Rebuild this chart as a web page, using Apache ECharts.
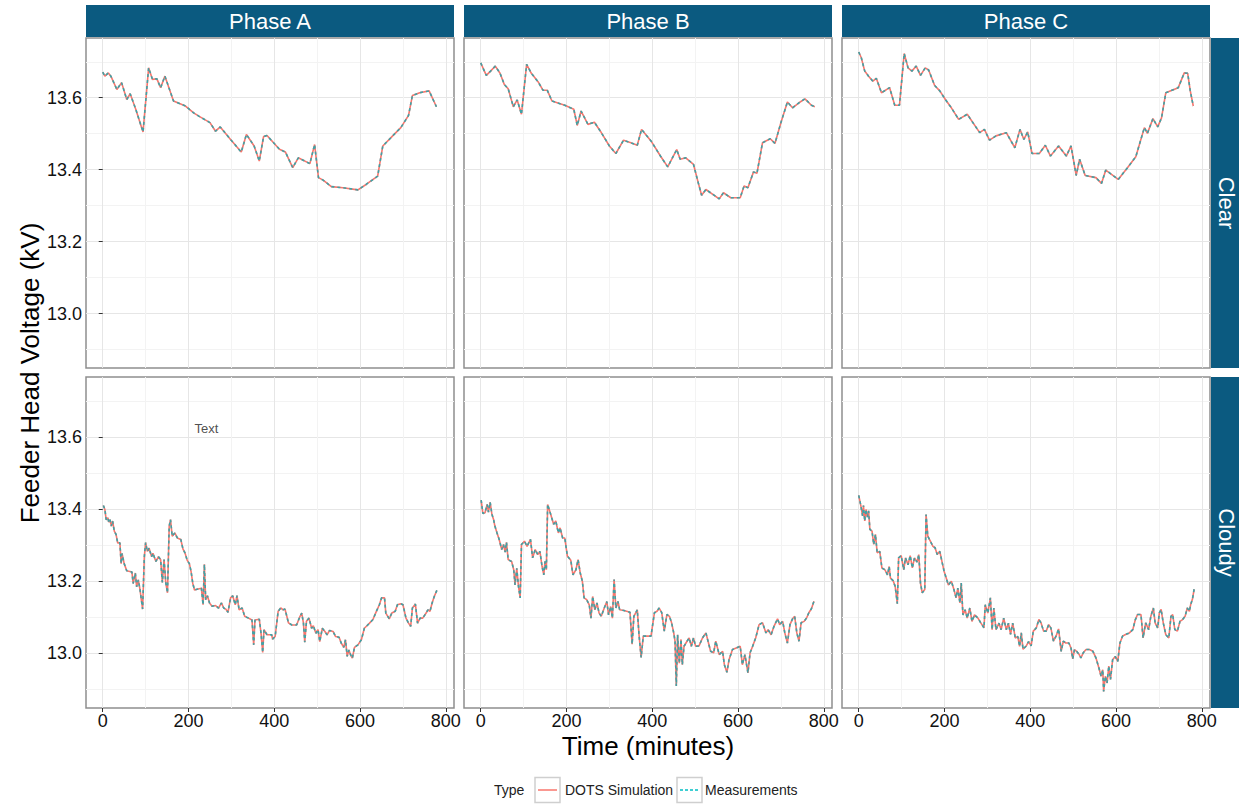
<!DOCTYPE html>
<html>
<head>
<meta charset="utf-8">
<script src="https://cdn.jsdelivr.net/npm/echarts@6/dist/echarts.min.js"></script>
<style>
html,body{margin:0;padding:0;background:#fff;}
#chart{width:1239px;height:805px;}
</style>
</head>
<body>
<div id="chart"></div>
<script>
// ---------------- DATA ----------------
const phases = ['Phase A', 'Phase B', 'Phase C'];
const conditions = ['Clear', 'Cloudy'];
const seriesNames = ['DOTS Simulation', 'Measurements'];
const legendTitle = 'Type';
const xTitle = 'Time (minutes)';
const yTitle = 'Feeder Head Voltage (kV)';
const xTicks = [0, 200, 400, 600, 800];
const yTicks = [13.0, 13.2, 13.4, 13.6];
const annotation = { x: 242, y: 13.624, label: 'Text' };

// [time (minutes), voltage (kV)]
const clearA = [[0,13.671],[5,13.660],[13,13.669],[19,13.660],[33,13.623],[44,13.642],[56,13.595],[64,13.611],[77,13.568],[94,13.505],[107,13.683],[116,13.651],[126,13.653],[135,13.628],[145,13.660],[165,13.591],[193,13.577],[212,13.558],[224,13.549],[250,13.531],[263,13.507],[274,13.519],[298,13.484],[323,13.449],[335,13.498],[353,13.466],[365,13.424],[375,13.492],[383,13.495],[412,13.457],[426,13.449],[443,13.406],[456,13.433],[483,13.417],[494,13.470],[503,13.378],[514,13.371],[533,13.353],[560,13.350],[595,13.344],[614,13.359],[641,13.382],[653,13.466],[676,13.494],[695,13.517],[713,13.551],[722,13.606],[739,13.614],[761,13.619],[778,13.575]];

const clearB = [[0,13.697],[13,13.662],[23,13.674],[34,13.688],[45,13.668],[55,13.637],[64,13.625],[76,13.575],[85,13.594],[95,13.554],[107,13.693],[118,13.668],[134,13.644],[145,13.621],[155,13.621],[166,13.591],[196,13.579],[217,13.568],[225,13.523],[234,13.563],[250,13.526],[265,13.532],[279,13.507],[300,13.466],[315,13.445],[333,13.482],[350,13.475],[365,13.468],[375,13.512],[397,13.480],[419,13.438],[436,13.408],[457,13.456],[465,13.429],[478,13.433],[496,13.415],[506,13.369],[515,13.329],[525,13.345],[556,13.319],[566,13.336],[583,13.322],[605,13.322],[614,13.355],[623,13.350],[636,13.394],[644,13.390],[657,13.475],[675,13.486],[686,13.473],[700,13.531],[715,13.588],[727,13.572],[742,13.586],[756,13.597],[771,13.579],[779,13.575]];

const clearC = [[0,13.727],[6,13.711],[14,13.674],[23,13.660],[33,13.646],[41,13.654],[53,13.614],[72,13.628],[84,13.579],[95,13.579],[106,13.723],[115,13.683],[124,13.674],[134,13.688],[144,13.662],[155,13.683],[163,13.677],[177,13.634],[189,13.619],[202,13.595],[216,13.572],[233,13.540],[253,13.554],[282,13.503],[293,13.512],[305,13.482],[320,13.494],[344,13.503],[364,13.461],[376,13.512],[385,13.484],[394,13.505],[404,13.445],[421,13.445],[435,13.468],[447,13.438],[466,13.466],[484,13.438],[495,13.466],[507,13.384],[515,13.429],[528,13.384],[553,13.378],[566,13.362],[576,13.399],[605,13.373],[627,13.406],[646,13.436],[666,13.517],[673,13.501],[686,13.542],[697,13.519],[706,13.544],[716,13.614],[745,13.628],[759,13.669],[767,13.668],[773,13.619],[780,13.577]];

const cloudyA = [[1.5,13.410],[5,13.399],[8,13.371],[12,13.376],[14,13.364],[17,13.371],[20,13.353],[23,13.367],[27,13.339],[31,13.330],[35,13.306],[40,13.307],[43,13.249],[45,13.277],[50,13.249],[56,13.229],[68,13.226],[71,13.194],[76,13.223],[79,13.185],[83,13.204],[87,13.176],[93,13.123],[97,13.268],[100,13.307],[104,13.283],[108,13.292],[114,13.268],[117,13.278],[124,13.255],[130,13.268],[135,13.260],[139,13.197],[143,13.260],[147,13.196],[151,13.168],[155,13.353],[158,13.371],[162,13.325],[168,13.334],[174,13.320],[182,13.316],[187,13.290],[192,13.278],[197,13.258],[202,13.249],[206,13.227],[210,13.194],[214,13.176],[220,13.178],[230,13.181],[234,13.135],[237,13.247],[240,13.149],[244,13.160],[249,13.140],[255,13.131],[263,13.133],[270,13.126],[277,13.140],[282,13.126],[287,13.123],[292,13.114],[298,13.154],[303,13.160],[309,13.135],[313,13.160],[318,13.121],[325,13.126],[331,13.103],[340,13.098],[348,13.093],[352,13.024],[355,13.093],[365,13.095],[369,13.057],[373,13.003],[376,13.066],[383,13.052],[394,13.052],[396,13.040],[402,13.047],[409,13.117],[415,13.126],[421,13.121],[425,13.123],[433,13.085],[441,13.079],[452,13.079],[460,13.103],[464,13.112],[468,13.084],[471,13.031],[475,13.089],[481,13.098],[487,13.070],[491,13.077],[497,13.056],[502,13.066],[506,13.033],[512,13.070],[518,13.061],[523,13.052],[529,13.064],[537,13.061],[543,13.047],[551,13.045],[556,13.029],[562,13.017],[566,13.038],[570,12.992],[574,13.010],[578,12.996],[582,12.987],[587,13.017],[595,13.024],[603,13.038],[610,13.070],[616,13.077],[622,13.084],[630,13.094],[637,13.114],[645,13.135],[650,13.154],[657,13.154],[660,13.112],[668,13.096],[674,13.112],[682,13.117],[687,13.135],[695,13.138],[700,13.135],[707,13.098],[713,13.084],[718,13.075],[722,13.126],[729,13.137],[734,13.084],[740,13.098],[746,13.098],[754,13.112],[758,13.121],[763,13.117],[768,13.140],[773,13.158],[779,13.175]];

const cloudyB = [[1,13.425],[5,13.388],[10,13.390],[15,13.413],[18,13.392],[22,13.419],[26,13.386],[30,13.371],[33,13.353],[38,13.334],[43,13.316],[49,13.288],[53,13.302],[57,13.281],[60,13.308],[64,13.260],[72,13.255],[77,13.232],[80,13.190],[84,13.236],[88,13.186],[92,13.154],[95,13.302],[102,13.311],[108,13.297],[116,13.316],[121,13.265],[127,13.288],[133,13.274],[138,13.283],[143,13.241],[147,13.218],[150,13.255],[153,13.232],[156,13.413],[162,13.390],[170,13.358],[175,13.367],[181,13.334],[185,13.348],[191,13.320],[196,13.320],[202,13.270],[210,13.258],[215,13.218],[222,13.232],[227,13.260],[232,13.223],[237,13.200],[241,13.154],[247,13.149],[253,13.135],[257,13.098],[261,13.158],[266,13.121],[271,13.140],[276,13.112],[281,13.103],[288,13.126],[294,13.144],[298,13.107],[303,13.130],[307,13.098],[311,13.205],[315,13.126],[320,13.144],[324,13.121],[334,13.119],[348,13.114],[353,13.026],[357,13.103],[365,13.121],[369,13.053],[374,12.989],[379,13.048],[388,13.048],[397,13.048],[405,13.113],[411,13.117],[416,13.126],[422,13.113],[428,13.062],[434,13.108],[440,13.103],[445,13.085],[450,13.057],[453,13.034],[456,12.910],[459,13.052],[463,12.973],[467,13.039],[470,12.969],[474,13.020],[481,13.034],[486,13.043],[491,13.020],[496,13.043],[501,13.020],[509,13.021],[517,13.043],[525,13.057],[530,13.034],[536,13.006],[543,13.002],[548,13.034],[556,12.997],[564,13.006],[568,12.969],[574,12.948],[579,12.983],[587,13.011],[597,13.016],[605,13.020],[610,12.969],[616,12.997],[623,12.946],[628,13.002],[634,13.020],[641,13.043],[649,13.080],[657,13.085],[665,13.057],[670,13.066],[677,13.052],[684,13.076],[692,13.096],[697,13.080],[704,13.089],[709,13.057],[715,13.029],[721,13.080],[727,13.096],[732,13.103],[737,13.057],[742,13.034],[747,13.085],[754,13.089],[760,13.099],[765,13.113],[771,13.124],[777,13.145]];

const cloudyC = [[0,13.438],[5,13.409],[9,13.381],[11,13.410],[14,13.367],[17,13.399],[20,13.378],[23,13.395],[26,13.344],[31,13.339],[35,13.302],[39,13.330],[43,13.279],[49,13.283],[54,13.237],[61,13.232],[67,13.218],[71,13.241],[74,13.209],[80,13.202],[85,13.186],[90,13.138],[93,13.265],[99,13.271],[105,13.232],[109,13.265],[115,13.246],[120,13.271],[125,13.237],[130,13.265],[136,13.253],[140,13.274],[144,13.195],[148,13.168],[154,13.177],[157,13.385],[161,13.325],[167,13.311],[173,13.297],[178,13.293],[183,13.274],[189,13.283],[194,13.255],[199,13.228],[204,13.209],[209,13.190],[216,13.200],[222,13.177],[227,13.154],[231,13.181],[236,13.140],[239,13.195],[243,13.107],[248,13.121],[253,13.098],[259,13.126],[264,13.089],[270,13.107],[278,13.098],[285,13.084],[292,13.071],[295,13.135],[301,13.112],[307,13.154],[311,13.066],[315,13.126],[320,13.066],[327,13.084],[332,13.066],[338,13.098],[344,13.066],[349,13.084],[354,13.053],[359,13.084],[365,13.043],[371,13.047],[375,13.020],[379,13.057],[383,13.012],[390,13.020],[396,13.033],[402,13.021],[407,13.062],[414,13.071],[420,13.094],[425,13.085],[431,13.062],[437,13.062],[443,13.080],[448,13.071],[454,13.034],[460,13.048],[466,13.068],[472,13.006],[477,13.034],[483,13.029],[490,13.029],[495,13.015],[499,12.985],[503,13.011],[508,13.006],[514,12.997],[518,12.988],[524,13.003],[530,13.011],[538,13.011],[546,13.006],[553,12.988],[560,12.960],[565,12.937],[569,12.955],[571,12.895],[575,12.937],[579,12.918],[583,12.965],[587,12.928],[592,12.983],[598,12.992],[604,12.978],[609,13.029],[615,13.048],[621,13.052],[631,13.057],[639,13.066],[645,13.094],[650,13.108],[658,13.108],[663,13.043],[669,13.085],[676,13.066],[681,13.103],[687,13.126],[691,13.085],[697,13.071],[701,13.113],[705,13.122],[710,13.085],[716,13.052],[723,13.043],[728,13.103],[732,13.108],[737,13.066],[743,13.062],[749,13.089],[755,13.094],[761,13.103],[766,13.126],[771,13.117],[774,13.136],[778,13.150],[782,13.178]];

// ---------------- LAYOUT ----------------
const panelData = [clearA, clearB, clearC, cloudyA, cloudyB, cloudyC];
const colLeft = [86, 464, 842];
const panelW = 368;
const rowTop = [38, 377];
const panelH = 331;
const X_MIN = -39, X_MAX = 819;
const Y_MIN = 12.849, Y_MAX = 13.766;
const FONT = 'Liberation Sans, Arial, sans-serif';
const stripColor = '#0b5a80';
const simColor = '#F8766D';
const measColor = '#3fa2a6';

const grids = [], xAxes = [], yAxes = [], series = [];
for (let r = 0; r < 2; r++) {
  for (let c = 0; c < 3; c++) {
    const i = r * 3 + c;
    grids.push({
      left: colLeft[c], top: rowTop[r], width: panelW, height: r === 0 ? 330 : panelH,
      show: true, borderColor: '#8e8e8e', borderWidth: 1.5, backgroundColor: '#fff', containLabel: false
    });
    const bottom = r === 1, left = c === 0;
    xAxes.push({
      type: 'value', gridIndex: i, min: X_MIN, max: X_MAX,
      axisLine: { show: false },
      axisTick: { show: bottom, length: 4, customValues: xTicks, lineStyle: { color: '#333', width: 1 } },
      axisLabel: { show: bottom, customValues: xTicks, fontSize: 18, fontFamily: FONT, color: '#111', margin: 4 },
      splitLine: { show: true, lineStyle: { color: '#e6e6e6', width: 1 } },
      minorTick: { show: false, splitNumber: 2 },
      minorSplitLine: { show: true, lineStyle: { color: '#f3f3f3', width: 1 } }
    });
    yAxes.push({
      type: 'value', gridIndex: i, min: Y_MIN, max: Y_MAX,
      axisLine: { show: false },
      axisTick: { show: left, length: 4, customValues: yTicks, lineStyle: { color: '#333', width: 1 } },
      axisLabel: { show: left, customValues: yTicks, fontSize: 18, fontFamily: FONT, color: '#111', margin: 4,
                   formatter: v => Number(v).toFixed(1) },
      splitLine: { show: true, lineStyle: { color: '#e6e6e6', width: 1 } },
      minorTick: { show: false, splitNumber: 2 },
      minorSplitLine: { show: true, lineStyle: { color: '#f3f3f3', width: 1 } }
    });
    const d = panelData[i];
    series.push({
      type: 'line', name: seriesNames[0], xAxisIndex: i, yAxisIndex: i, data: d,
      showSymbol: false, symbol: 'none', z: 2, emphasis: { disabled: true },
      lineStyle: { color: simColor, width: 1.6 }, itemStyle: { color: simColor }
    });
    series.push({
      type: 'line', name: seriesNames[1], xAxisIndex: i, yAxisIndex: i, data: d,
      showSymbol: false, symbol: 'none', z: 3, emphasis: { disabled: true },
      lineStyle: { color: measColor, width: 1.6, type: [3, 3] }, itemStyle: { color: measColor }
    });
  }
}
// text annotation in the Cloudy / Phase A panel
series.push({
  type: 'scatter', xAxisIndex: 3, yAxisIndex: 3, symbolSize: 0, silent: true,
  data: [[annotation.x, annotation.y]],
  label: { show: true, position: 'inside', formatter: annotation.label, fontSize: 13, fontFamily: FONT, color: '#222' }
});

// ---------------- GRAPHIC (strips, titles, legend) ----------------
const graphic = [];
const txt = (x, y, text, size, fill, extra) => Object.assign({
  type: 'text', x: x, y: y,
  style: { text: text, fill: fill, fontSize: size, fontFamily: FONT,
           align: 'center', verticalAlign: 'middle', textAlign: 'center', textVerticalAlign: 'middle' }
}, extra || {});

phases.forEach((p, c) => {
  graphic.push({ type: 'rect', shape: { x: colLeft[c], y: 5, width: panelW, height: 32 }, style: { fill: stripColor } });
  graphic.push(txt(colLeft[c] + panelW / 2, 21, p, 22, '#fff'));
});
conditions.forEach((cond, r) => {
  const h = r === 0 ? 330 : panelH;
  graphic.push({ type: 'rect', shape: { x: 1211, y: rowTop[r], width: 30, height: h }, style: { fill: stripColor } });
  graphic.push(txt(1226, rowTop[r] + h / 2, cond, 22, '#fff', { rotation: -Math.PI / 2 }));
});
graphic.push(txt(30, 373, yTitle, 26, '#000', { rotation: Math.PI / 2 }));
graphic.push(txt(648, 746, xTitle, 26, '#000'));

// legend
const legY = 790;
graphic.push({ type: 'text', x: 494, y: legY, style: { text: legendTitle, fill: '#222', fontSize: 14, fontFamily: FONT, align: 'left', verticalAlign: 'middle', textAlign: 'left', textVerticalAlign: 'middle' } });
const legItems = [
  { x: 535, color: '#F8766D', dash: null, label: seriesNames[0], tx: 565 },
  { x: 677, color: '#00BFC4', dash: [3, 2], label: seriesNames[1], tx: 705 }
];
legItems.forEach(it => {
  graphic.push({ type: 'rect', shape: { x: it.x, y: legY - 12.5, width: 25, height: 25 }, style: { fill: '#fff', stroke: '#cfcfcf', lineWidth: 1.5 } });
  graphic.push({ type: 'line', shape: { x1: it.x + 3, y1: legY, x2: it.x + 22, y2: legY }, style: { stroke: it.color, lineWidth: 1.5, lineDash: it.dash } });
  graphic.push({ type: 'text', x: it.tx, y: legY, style: { text: it.label, fill: '#222', fontSize: 14, fontFamily: FONT, align: 'left', verticalAlign: 'middle', textAlign: 'left', textVerticalAlign: 'middle' } });
});

const chart = echarts.init(document.getElementById('chart'), null, { renderer: 'svg', width: 1239, height: 805 });
chart.setOption({
  animation: false,
  backgroundColor: '#fff',
  grid: grids, xAxis: xAxes, yAxis: yAxes, series: series, graphic: graphic
});
</script>
</body>
</html>
